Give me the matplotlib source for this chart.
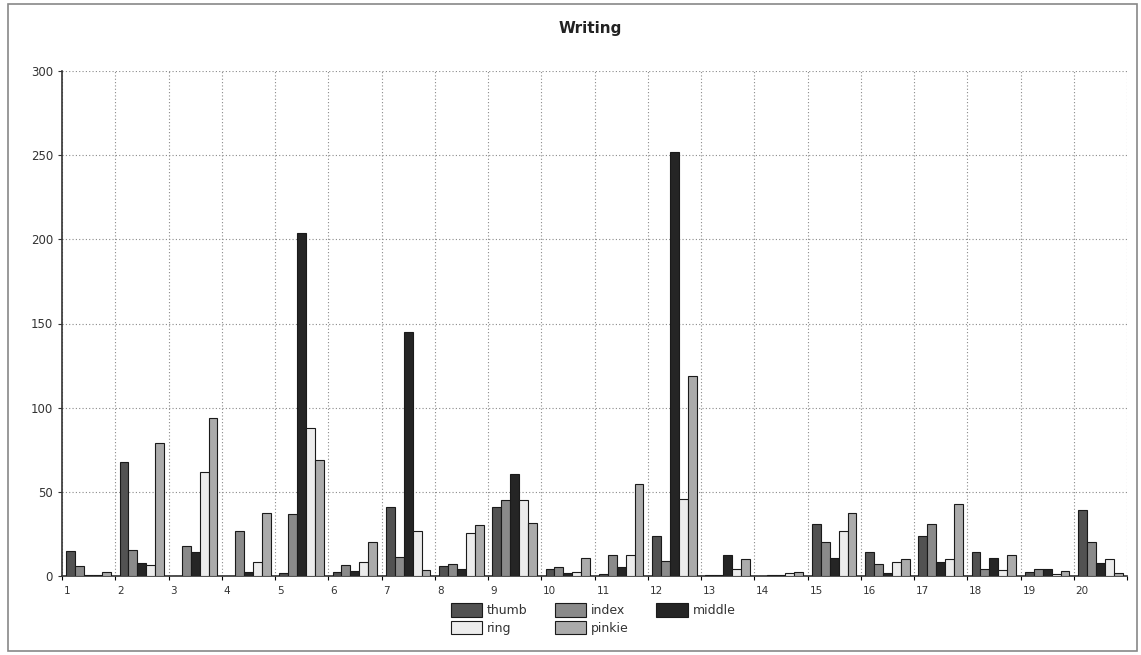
import matplotlib
matplotlib.use("Agg")
import matplotlib.pyplot as plt
from matplotlib.patches import Rectangle
import matplotlib.transforms as mtransforms
import numpy as np

groups = [str(i) for i in range(1, 21)]
series = ["thumb", "index", "middle", "ring", "pinkie"]
thumb  = [15, 68, 0, 0, 1.6, 2.6, 41, 6, 41, 4, 1, 24, 0.8, 0, 31, 14.4, 24, 14.4, 2.6, 39]
index  = [6, 15.4, 17.8, 26.7, 37, 6.3, 11, 6.9, 45, 5.5, 12.5, 9, 0.8, 0.8, 20.4, 7, 31, 4.2, 4.2, 20.4]
middle = [0.8, 7.5, 14, 2.6, 204, 3.2, 145, 4, 60.5, 1.6, 5.5, 252, 12.6, 0.8, 10.5, 1.8, 8.1, 10.9, 4.2, 7.5]
ring   = [0.8, 6.5, 62, 8.5, 88, 8.5, 26.7, 25.3, 45, 2.6, 12.5, 45.6, 4, 1.6, 26.9, 8.5, 9.9, 3.6, 1, 9.9]
pinkie = [2.4, 79, 94, 37.7, 69, 20, 3.6, 30.2, 31.6, 10.5, 54.5, 118.6, 9.9, 2.6, 37.2, 9.9, 43, 12.6, 3.2, 2]
values = [thumb, index, middle, ring, pinkie]
colors = ["#525252", "#8a8a8a", "#252525", "#ececec", "#ababab"]

fig = plt.figure(figsize=(11.41, 6.55), dpi=100)
W, H = 1141, 655
ax = fig.add_axes([62 / W, 1 - 576 / H, (1127 - 62) / W, (576 - 71) / H])

n = len(groups)
bw = 0.168
margin = (1 - bw * len(series)) / 2
x0 = np.arange(n)
handles = []
for k, (name, vals, c) in enumerate(zip(series, values, colors)):
    b = ax.bar(x0 + margin + k * bw, vals, width=bw, align="edge", color=c,
               edgecolor="#1a1a1a", linewidth=0.8, label=name, zorder=3)
    handles.append(b)

ax.set_xlim(0, n)
ax.set_ylim(0, 300)
ax.set_xticks(np.arange(n + 1))
ax.set_xticklabels(groups + [""], ha="left", fontsize=7.5, color="#333333")
ax.set_yticks(np.arange(0, 301, 50))
ax.tick_params(axis="y", labelsize=8.5, colors="#333333", length=3, direction="out")
ax.tick_params(axis="x", length=3, direction="out", pad=4)
ax.grid(True, linestyle=(0, (1, 2)), color="#8a8a8a", linewidth=0.8, zorder=0)
ax.spines["top"].set_visible(False)
ax.spines["right"].set_visible(False)
for s in ("left", "bottom"):
    ax.spines[s].set_color("#333333")
    ax.spines[s].set_linewidth(1.2)

offset = mtransforms.ScaledTranslation(2 / 100, 0, fig.dpi_scale_trans)
for lbl in ax.get_xticklabels():
    lbl.set_transform(lbl.get_transform() + offset)

fig.text(590 / W, 1 - 28 / H, "Writing", ha="center", va="center",
         fontsize=11, fontweight="bold", color="#222222")

order = [0, 3, 1, 4, 2]
leg = fig.legend([handles[i] for i in order], [series[i] for i in order],
                 loc="center", bbox_to_anchor=(593 / W, 1 - 619 / H), ncol=3,
                 frameon=False, fontsize=9, handlelength=2.5, handleheight=1.3,
                 columnspacing=2.2, handletextpad=0.4, labelspacing=0.25)
for t in leg.get_texts():
    t.set_color("#333333")

fig.patches.append(Rectangle((8 / W, 1 - 651 / H), (1137 - 8) / W, (651 - 4) / H,
                             transform=fig.transFigure, fill=False,
                             edgecolor="#888888", linewidth=1.2))

fig.savefig("out.png", dpi=100)
